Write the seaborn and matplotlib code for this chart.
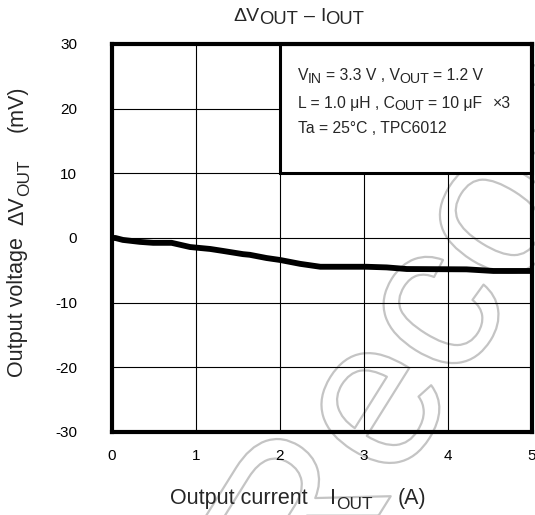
#!/usr/bin/env python
# -*- coding: utf-8 -*-
"""
Output voltage deviation vs output current.

"""
import pandas as pd
import matplotlib
matplotlib.use('Agg')
import matplotlib.pyplot as plt
import matplotlib.patheffects as pe
from matplotlib.patches import Rectangle
import seaborn as sns

# Data
i_out = [0.0, 0.04, 0.13, 0.33, 0.49, 0.71, 0.93, 1.17, 1.32, 1.56, 1.64,
         1.84, 2.0, 2.24, 2.48, 3.03, 3.27, 3.51, 4.22, 4.54, 5.0]
dv_out = [0.0, 0.0, -0.3, -0.6, -0.75, -0.75, -1.4, -1.7, -2.0, -2.5, -2.6,
          -3.1, -3.4, -4.0, -4.45, -4.45, -4.55, -4.8, -4.85, -5.1, -5.1]

x_ticks = [0, 1, 2, 3, 4, 5]
y_ticks = [-30, -20, -10, 0, 10, 20, 30]

# text pieces: (text, subscript?, gap before in pt)
title_parts = [('\u0394V', False, 0), ('OUT', True, 0), ('\u2013', False, 4),
               ('I', False, 4), ('OUT', True, 0)]
xlabel_parts = [('Output current', False, 0), ('I', False, 16),
                ('OUT', True, 0), ('(A)', False, 18)]
ylabel_parts = [('Output voltage', False, 0), ('\u0394V', False, 9),
                ('OUT', True, 0), ('(mV)', False, 20)]
cond_parts = [
    [('V', False, 0), ('IN', True, 0), ('= 3.3 V , V', False, 2.5),
     ('OUT', True, 0), ('= 1.2 V', False, 2.5)],
    [('L = 1.0 \u03bcH , C', False, 0), ('OUT', True, 0),
     ('= 10 \u03bcF', False, 2.5), ('\u00d73', False, 8)],
    [('Ta = 25\u00b0C , TPC6012', False, 0)],
]
cond_y = [25.4, 21.1, 17.1]


def rich_text(ax, x, y, parts, size, coords='data', rotation=0,
              sub_scale=0.85, drop=0.18, zorder=7):
    """Chain text pieces so subscripts keep almost full size."""
    sub_drop = drop * size
    prev, prev_off = None, 0
    if rotation == 90:
        anchor, ha = (1, 1), 'right'
    else:
        anchor, ha = (1, 0), 'left'
    for s, sub, gap in parts:
        off = -sub_drop if sub else 0
        fs = size * sub_scale if sub else size
        if prev is None:
            t = ax.annotate(s, xy=(x, y), xycoords=coords, fontsize=fs,
                            rotation=rotation, ha=ha, va='bottom',
                            annotation_clip=False)
        else:
            d = off - prev_off
            shift = (-d, gap) if rotation == 90 else (gap, d)
            t = ax.annotate(s, xy=anchor, xycoords=prev, xytext=shift,
                            textcoords='offset points', fontsize=fs,
                            rotation=rotation, ha=ha, va='bottom',
                            annotation_clip=False)
        t.set_zorder(zorder)
        prev, prev_off = t, off
    return prev


sns.set_style('white')
plt.rcParams['font.family'] = ['Liberation Sans', 'DejaVu Sans']

fig = plt.figure(figsize=(5.35, 5.15), dpi=100)
ax = fig.add_axes([0.2093, 0.1612, 0.7851, 0.7534])
ax.patch.set_alpha(0)

df = pd.DataFrame({'I': i_out, 'dV': dv_out})
sns.lineplot(data=df, x='I', y='dV', ax=ax, color='black', lw=4.2,
             zorder=4, solid_capstyle='butt')

ax.set_xlim(0, 5)
ax.set_ylim(-30, 30)
ax.set_xticks(x_ticks)
ax.set_yticks(y_ticks)
ax.set_xticklabels([str(t) for t in x_ticks])
ax.set_yticklabels([str(t) for t in y_ticks])
ax.tick_params(axis='both', length=0, labelsize=11, colors='black')
ax.tick_params(axis='y', pad=25)
ax.tick_params(axis='x', pad=12)
ax.grid(True, color='black', lw=0.8)
ax.set_axisbelow(True)
ax.set_xlabel('')
ax.set_ylabel('')
for s in ax.spines.values():
    s.set_linewidth(3)
    s.set_color('black')
    s.set_zorder(6)

# condition box
ax.add_patch(Rectangle((2, 10), 3, 20, fc='white', ec='black', lw=2.2,
                       zorder=5, clip_on=False))
for parts, yy in zip(cond_parts, cond_y):
    rich_text(ax, 2.21, yy - 1.4, parts, 11.3, sub_scale=0.9)

rich_text(ax, 0.4355, 0.9515, title_parts, 14, coords='figure fraction',
          sub_scale=0.95)
rich_text(ax, 0.318, 0.0125, xlabel_parts, 15.5, coords='figure fraction',
          sub_scale=0.8)
rich_text(ax, 0.0523, 0.268, ylabel_parts, 15.5, coords='figure fraction',
          rotation=90, sub_scale=0.8)

# faint outlined watermark, behind the axes content
fig.text(0.588, -0.20, "Recom", fontsize=153, rotation=58,
         rotation_mode='anchor', ha='left', va='baseline', color='none',
         zorder=-1,
         path_effects=[pe.withStroke(linewidth=1.6, foreground='#c4c4c4')])

fig.savefig('out.png', dpi=100)
